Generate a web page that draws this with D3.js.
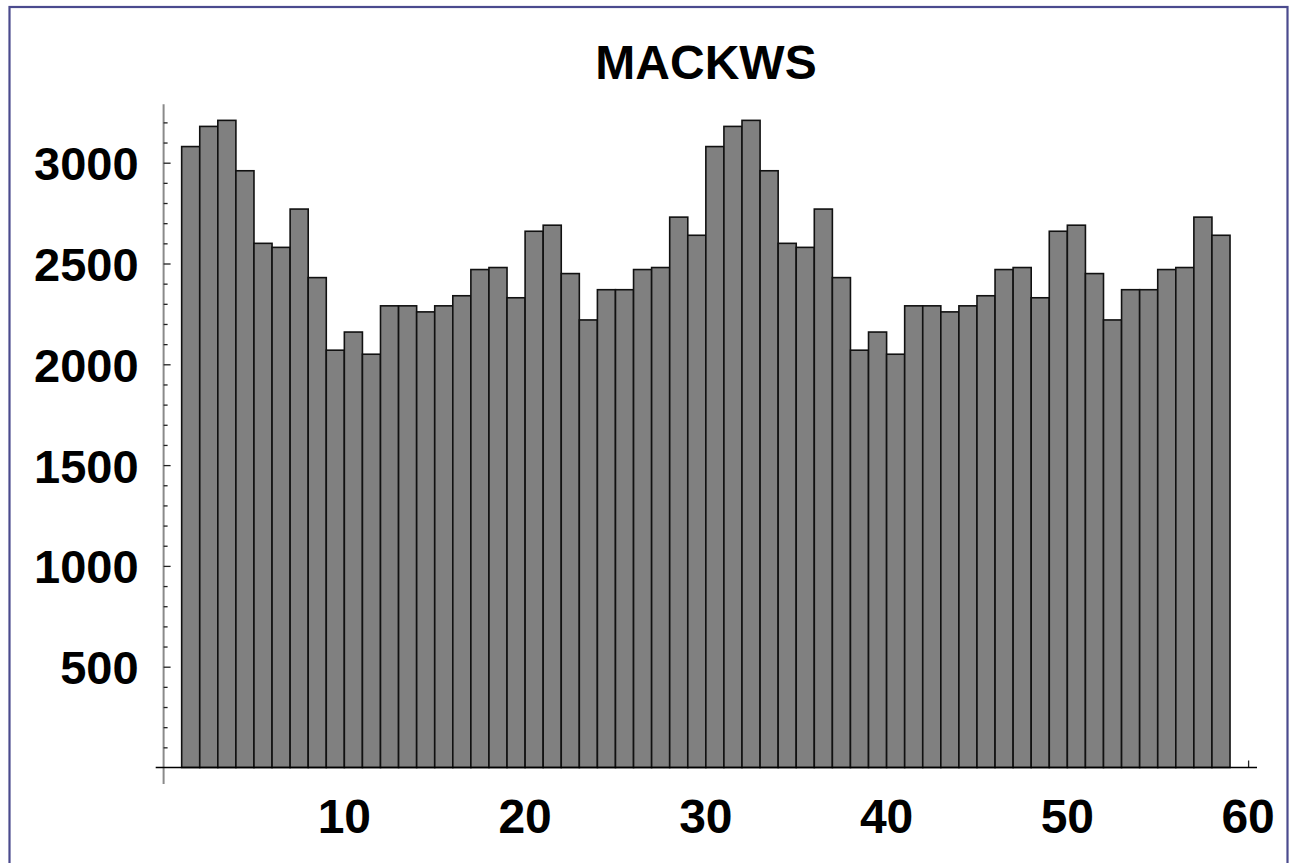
<!DOCTYPE html>
<html>
<head>
<meta charset="utf-8">
<script src="https://cdn.jsdelivr.net/npm/d3@7"></script>
<style>
  html, body { margin: 0; padding: 0; background: #fff; }
  svg { display: block; font-family: "Liberation Sans", Arial, Helvetica, sans-serif; }
</style>
</head>
<body>
<svg id="chart" width="1289" height="863"></svg>
<script>
// Histogram bins: bin i covers [binStart[i], binStart[i] + 1)
const binStart = d3.range(1, 59);
const counts = [
  3080, 3180, 3210, 2960, 2600, 2580, 2770, 2430, 2070, 2160,
  2050, 2290, 2290, 2260, 2290, 2340, 2470, 2480, 2330, 2660,
  2690, 2450, 2220, 2370, 2370, 2470, 2480, 2730, 2640,
  3080, 3180, 3210, 2960, 2600, 2580, 2770, 2430, 2070, 2160,
  2050, 2290, 2290, 2260, 2290, 2340, 2470, 2480, 2330, 2660,
  2690, 2450, 2220, 2370, 2370, 2470, 2480, 2730, 2640
];
const xTicks = [10, 20, 30, 40, 50, 60];
const yMajorTicks = [500, 1000, 1500, 2000, 2500, 3000];
const yMinorTicks = d3.range(100, 3300, 100).filter(v => v % 500 !== 0);
const title = "MACKWS";

const svg = d3.select("#chart");

// Frame around the whole graphic
svg.append("rect")
  .attr("x", 9.5).attr("y", 7)
  .attr("width", 1278).attr("height", 870)
  .attr("fill", "none")
  .attr("stroke", "#4b4b8e")
  .attr("stroke-width", 2.2);

const x = d3.scaleLinear().domain([0, 60]).range([163.6, 1248.1]);
const y = d3.scaleLinear().domain([0, 3000]).range([767.5, 162.7]);

// Y axis: gray spine with inward ticks
const yAxisG = svg.append("g");
yAxisG.append("line")
  .attr("x1", x(0)).attr("x2", x(0))
  .attr("y1", y(3290)).attr("y2", 784)
  .attr("stroke", "#8a8a8a").attr("stroke-width", 2);

const yMinor = svg.append("g").attr("transform", `translate(${x(0)},0)`)
  .call(d3.axisRight(y).tickValues(yMinorTicks).tickSize(4).tickFormat(""));
const yMajor = svg.append("g").attr("transform", `translate(${x(0)},0)`)
  .call(d3.axisRight(y).tickValues(yMajorTicks).tickSize(7).tickFormat(""));
[yMinor, yMajor].forEach(g => {
  g.select(".domain").remove();
  g.selectAll(".tick line").attr("stroke", "#222").attr("stroke-width", 1.3);
});

const yLabels = svg.append("g").attr("transform", `translate(${x(0)},0)`)
  .call(d3.axisLeft(y).tickValues(yMajorTicks).tickSize(0).tickPadding(25).tickFormat(d3.format("d")));
yLabels.select(".domain").remove();
yLabels.selectAll("text")
  .attr("font-family", "\"Liberation Sans\", Arial, sans-serif")
  .attr("font-size", 47).attr("font-weight", "bold").attr("fill", "#000")
  .attr("dy", "0.36em");

// X axis: ticks pointing up, labels below
const xAxisG = svg.append("g").attr("transform", `translate(0,${y(0)})`)
  .call(d3.axisTop(x).tickValues(xTicks).tickSize(7).tickFormat(""));
xAxisG.select(".domain").remove();
xAxisG.selectAll(".tick line").attr("stroke", "#222").attr("stroke-width", 1.3);

svg.append("g").selectAll("text")
  .data(xTicks)
  .join("text")
  .attr("x", d => x(d))
  .attr("y", 833)
  .attr("text-anchor", "middle")
  .attr("font-size", 48).attr("font-weight", "bold").attr("fill", "#000")
  .text(d => d);

// Bars
svg.append("g").selectAll("rect")
  .data(binStart)
  .join("rect")
  .attr("x", (d) => x(d))
  .attr("width", d => x(d + 1) - x(d))
  .attr("y", (d, i) => y(counts[i]))
  .attr("height", (d, i) => y(0) - y(counts[i]))
  .attr("fill", "#808080")
  .attr("stroke", "#111")
  .attr("stroke-width", 1.6);

// X axis spine
svg.append("line")
  .attr("x1", 155.7).attr("x2", 1257)
  .attr("y1", y(0)).attr("y2", y(0))
  .attr("stroke", "#000").attr("stroke-width", 1.6);

// Title
svg.append("text")
  .attr("x", 706).attr("y", 79)
  .attr("text-anchor", "middle")
  .attr("font-size", 48).attr("font-weight", "bold").attr("fill", "#000")
  .text(title);
</script>
</body>
</html>
